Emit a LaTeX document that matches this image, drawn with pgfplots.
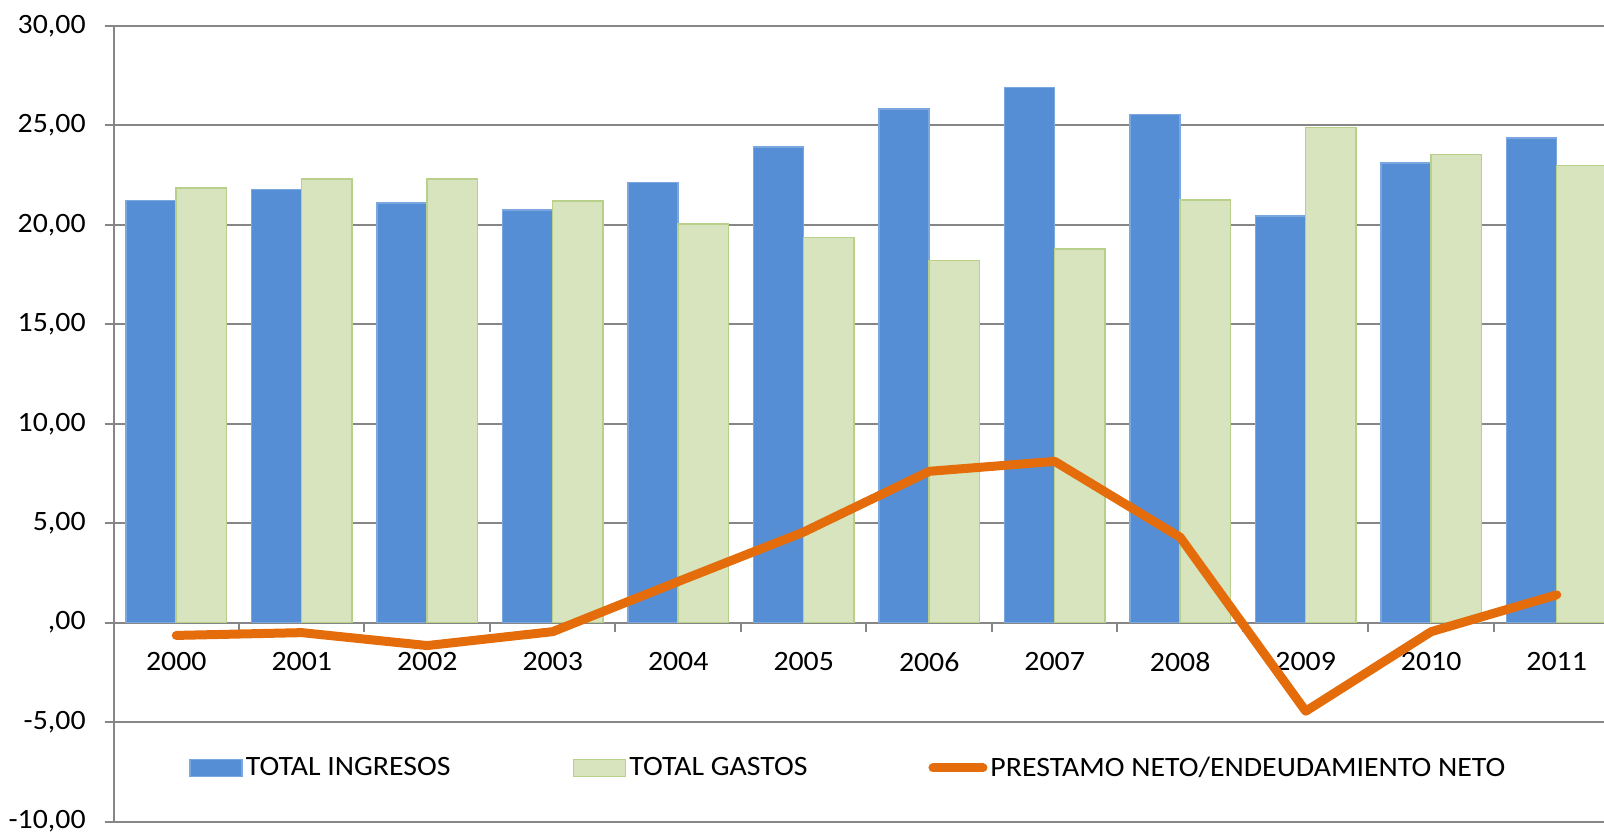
\documentclass[border=0pt]{standalone}
\usepackage{fontspec}
\setmainfont{Carlito}[FakeStretch=1.065]
\usepackage{pgfplots}
\pgfplotsset{compat=1.18}

\definecolor{ingresos}{HTML}{558ED5}
\definecolor{ingresosB}{HTML}{7AA7E0}
\definecolor{gastos}{HTML}{D7E4BD}
\definecolor{gastosB}{HTML}{B9CF8C}
\definecolor{prestamo}{HTML}{E46C0A}
\definecolor{rejilla}{HTML}{868686}

\begin{document}
\begin{tikzpicture}[font=\fontsize{14}{16.8}\selectfont]
\path[use as bounding box] (0,0) rectangle (802pt,416.5pt);
\begin{axis}[
  at={(56.75pt,5.7pt)}, anchor=south west,
  scale only axis, width=745.25pt, height=397.8pt,
  xmin=-0.5, xmax=11.377, ymin=-10, ymax=30,
  axis x line=middle, axis y line=left,
  axis line style={-, draw=rejilla, line width=1pt},
  tick align=outside, major tick length=4.5pt, minor tick length=4.5pt,
  every tick/.style={draw=rejilla, line width=1pt},
  ytick={-10,-5,...,30},
  yticklabels={{-10,00},{-5,00},{,00},{5,00},{10,00},{15,00},{20,00},{25,00},{30,00}},
  yticklabel style={inner sep=0pt, anchor=east, xshift=-9.25pt},
  xtick={0,...,11},
  xticklabels={2000,2001,2002,2003,2004,2005,2006,2007,2008,2009,2010,2011},
  major x tick style={draw=none},
  minor xtick={-0.5,0.5,...,11.5},
  xticklabel style={inner sep=0pt, anchor=north, yshift=-10.15pt},
  ymajorgrids, grid style={draw=rejilla, line width=1pt},
  ybar, bar width=0.4,
  legend columns=3,
  legend cell align=left,
  legend style={at={(0.0507,0.0674)}, anchor=west, draw=none, fill=none,
    inner sep=0pt, nodes={inner sep=0pt},
    /tikz/every odd column/.append style={column sep=1.5pt}},
]
\addplot[bar shift=-0.2, fill=ingresos, draw=ingresosB, line width=0.75pt,
  legend image code/.code={\draw[fill=ingresos, draw=ingresosB, line width=0.75pt] (0pt,-4.25pt) rectangle (26pt,4.25pt);}]
  coordinates {(0,21.22) (1,21.79) (2,21.10) (3,20.75) (4,22.12) (5,23.92)
               (6,25.83) (7,26.90) (8,25.55) (9,20.44) (10,23.10) (11,24.38)};
\addlegendentry{\makebox[163.5pt][l]{TOTAL INGRESOS}}
\addplot[bar shift=0.2, fill=gastos, draw=gastosB, line width=0.75pt,
  legend image code/.code={\draw[fill=gastos, draw=gastosB, line width=0.75pt] (0pt,-4.25pt) rectangle (26pt,4.25pt);}]
  coordinates {(0,21.86) (1,22.30) (2,22.30) (3,21.20) (4,20.05) (5,19.36)
               (6,18.22) (7,18.79) (8,21.26) (9,24.89) (10,23.55) (11,22.98)};
\addlegendentry{\makebox[149.5pt][l]{TOTAL GASTOS}}
\addplot[sharp plot, draw=prestamo, line width=4.5pt, line cap=round, line join=round,
  legend image code/.code={\draw[draw=prestamo, line width=4.5pt, line cap=round] (2.25pt,0pt) -- (27.25pt,0pt);}]
  coordinates {(0,-0.64) (1,-0.50) (2,-1.15) (3,-0.45) (4,2.07) (5,4.56)
               (6,7.61) (7,8.11) (8,4.29) (9,-4.45) (10,-0.45) (11,1.40)};
\addlegendentry{PRESTAMO NETO/ENDEUDAMIENTO NETO}
\end{axis}
\end{tikzpicture}
\end{document}
